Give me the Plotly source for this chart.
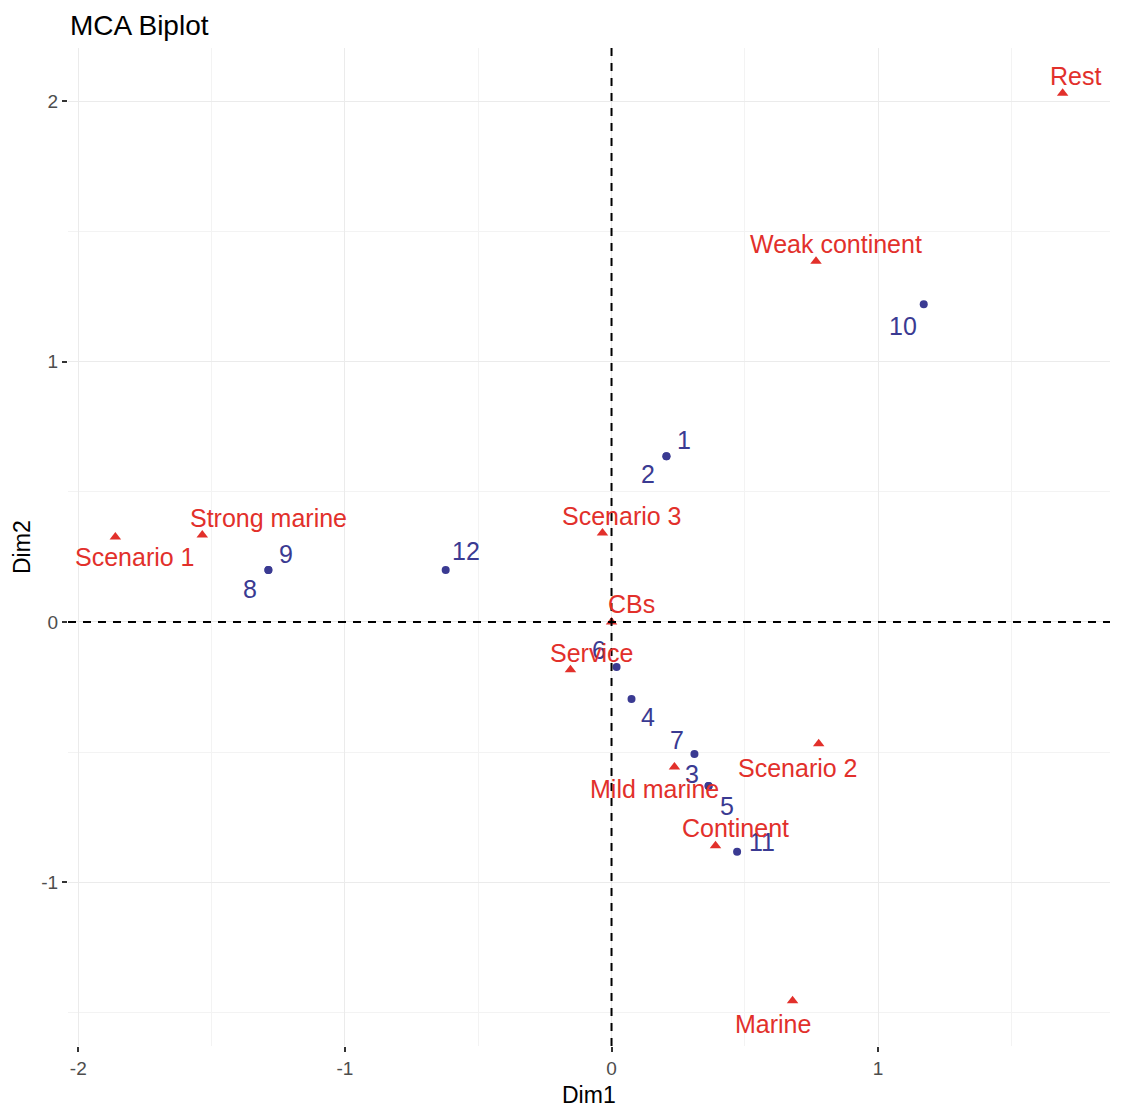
import plotly.graph_objects as go

# ---------------- data ----------------
ind_labels = ["1", "2", "3", "4", "5", "6", "7", "8", "9", "10", "11", "12"]
ind_x = [0.206, 0.206, 0.364, 0.075, 0.364, 0.019, 0.311, -1.287, -1.287, 1.171, 0.471, -0.622]
ind_y = [0.637, 0.637, -0.630, -0.296, -0.630, -0.173, -0.507, 0.200, 0.200, 1.221, -0.883, 0.200]

var_labels = ["Rest", "Weak continent", "Scenario 3", "Strong marine", "Scenario 1", "CBs",
              "Service", "Scenario 2", "Mild marine", "Continent", "Marine"]
var_x = [1.692, 0.767, -0.034, -1.535, -1.861, 0.000, -0.154, 0.777, 0.236, 0.390, 0.679]
var_y = [2.031, 1.386, 0.342, 0.334, 0.326, 0.000, -0.184, -0.468, -0.557, -0.860, -1.455]

x_ticks = [-2, -1, 0, 1]
y_ticks = [-1, 0, 1, 2]

# ---------------- style (label offsets in pixels, repel-like) ----------------
ind_dx = [18, -18, -17, 16, 18, -18, -17, -18, 18, -21, 25, 20]
ind_dy = [16, -18, 12, -18, -20, 17, 14, -19, 16, -22, 10, 19]
var_dx = [13, 20, 20, 66, 20, 20, 21, -21, -20, 20, -20]
var_dy = [17, 17, 17, 17, -20, 18, 17, -24, -22, 18, -23]

BLUE = "#3A3A92"
RED = "#E2302B"
FONT = "Liberation Sans, Arial, sans-serif"
LABEL_SIZE = 25

def expand(vals, f=0.05):
    lo, hi = min(vals), max(vals)
    d = (hi - lo) * f
    return [lo - d, hi + d]

xr = expand(ind_x + var_x)
yr = expand(ind_y + var_y)

fig = go.Figure()
fig.add_trace(go.Scatter(x=ind_x, y=ind_y, mode="markers",
                         marker=dict(color=BLUE, size=8, symbol="circle"),
                         hoverinfo="text", text=ind_labels, showlegend=False))
fig.add_trace(go.Scatter(x=var_x, y=var_y, mode="markers",
                         marker=dict(color=RED, size=10, symbol="triangle-up"),
                         hoverinfo="text", text=var_labels, showlegend=False))

annotations = []
for lab, x, y, dx, dy in zip(ind_labels, ind_x, ind_y, ind_dx, ind_dy):
    annotations.append(dict(x=x, y=y, xref="x", yref="y", text=lab, showarrow=False,
                            xshift=dx, yshift=dy,
                            font=dict(family=FONT, size=LABEL_SIZE, color=BLUE)))
for lab, x, y, dx, dy in zip(var_labels, var_x, var_y, var_dx, var_dy):
    annotations.append(dict(x=x, y=y, xref="x", yref="y", text=lab, showarrow=False,
                            xshift=dx, yshift=dy,
                            font=dict(family=FONT, size=LABEL_SIZE, color=RED)))

# title
annotations.append(dict(x=0, y=1, xref="paper", yref="paper", text="MCA Biplot",
                        showarrow=False, xanchor="left", yanchor="middle",
                        xshift=0, yshift=23,
                        font=dict(family=FONT, size=28, color="black")))
# axis titles
annotations.append(dict(x=0.5, y=0, xref="paper", yref="paper", text="Dim1",
                        showarrow=False, xanchor="center", yanchor="middle",
                        yshift=-49,
                        font=dict(family=FONT, size=23, color="black")))
annotations.append(dict(x=0, y=0.5, xref="paper", yref="paper", text="Dim2",
                        showarrow=False, xanchor="center", yanchor="middle",
                        xshift=-46, textangle=-90,
                        font=dict(family=FONT, size=23, color="black")))

shapes = [
    dict(type="line", xref="x", yref="paper", x0=0, x1=0, y0=0, y1=1,
         line=dict(color="black", width=2, dash="8px,7px"), layer="above"),
    dict(type="line", xref="paper", yref="y", x0=0, x1=1, y0=0, y1=0,
         line=dict(color="black", width=2, dash="8px,7px"), layer="above"),
]

# the page body adds an 8px margin, so the figure is sized/offset to compensate
fig.update_layout(
    width=1114, height=1100,
    margin=dict(l=60, r=12, t=40, b=62, autoexpand=False),
    paper_bgcolor="white", plot_bgcolor="white",
    font=dict(family=FONT),
    annotations=annotations, shapes=shapes,
    xaxis=dict(range=xr, tickvals=x_ticks, ticktext=[str(v) for v in x_ticks],
               automargin=False,
               showgrid=True, gridcolor="#EBEBEB", gridwidth=1.2,
               minor=dict(dtick=0.5, tick0=0, showgrid=True, gridcolor="#F3F3F3", gridwidth=0.8),
               zeroline=False, showline=False,
               ticks="outside", ticklen=5, tickwidth=1.5, tickcolor="#333333",
               tickfont=dict(size=19, color="#4D4D4D", family=FONT)),
    yaxis=dict(range=yr, tickvals=y_ticks, ticktext=[str(v) for v in y_ticks],
               automargin=False,
               showgrid=True, gridcolor="#EBEBEB", gridwidth=1.2,
               minor=dict(dtick=0.5, tick0=0, showgrid=True, gridcolor="#F3F3F3", gridwidth=0.8),
               zeroline=False, showline=False,
               ticks="outside", ticklen=5, tickwidth=1.5, tickcolor="#333333",
               tickfont=dict(size=19, color="#4D4D4D", family=FONT)),
)

fig.write_html("out.html")
